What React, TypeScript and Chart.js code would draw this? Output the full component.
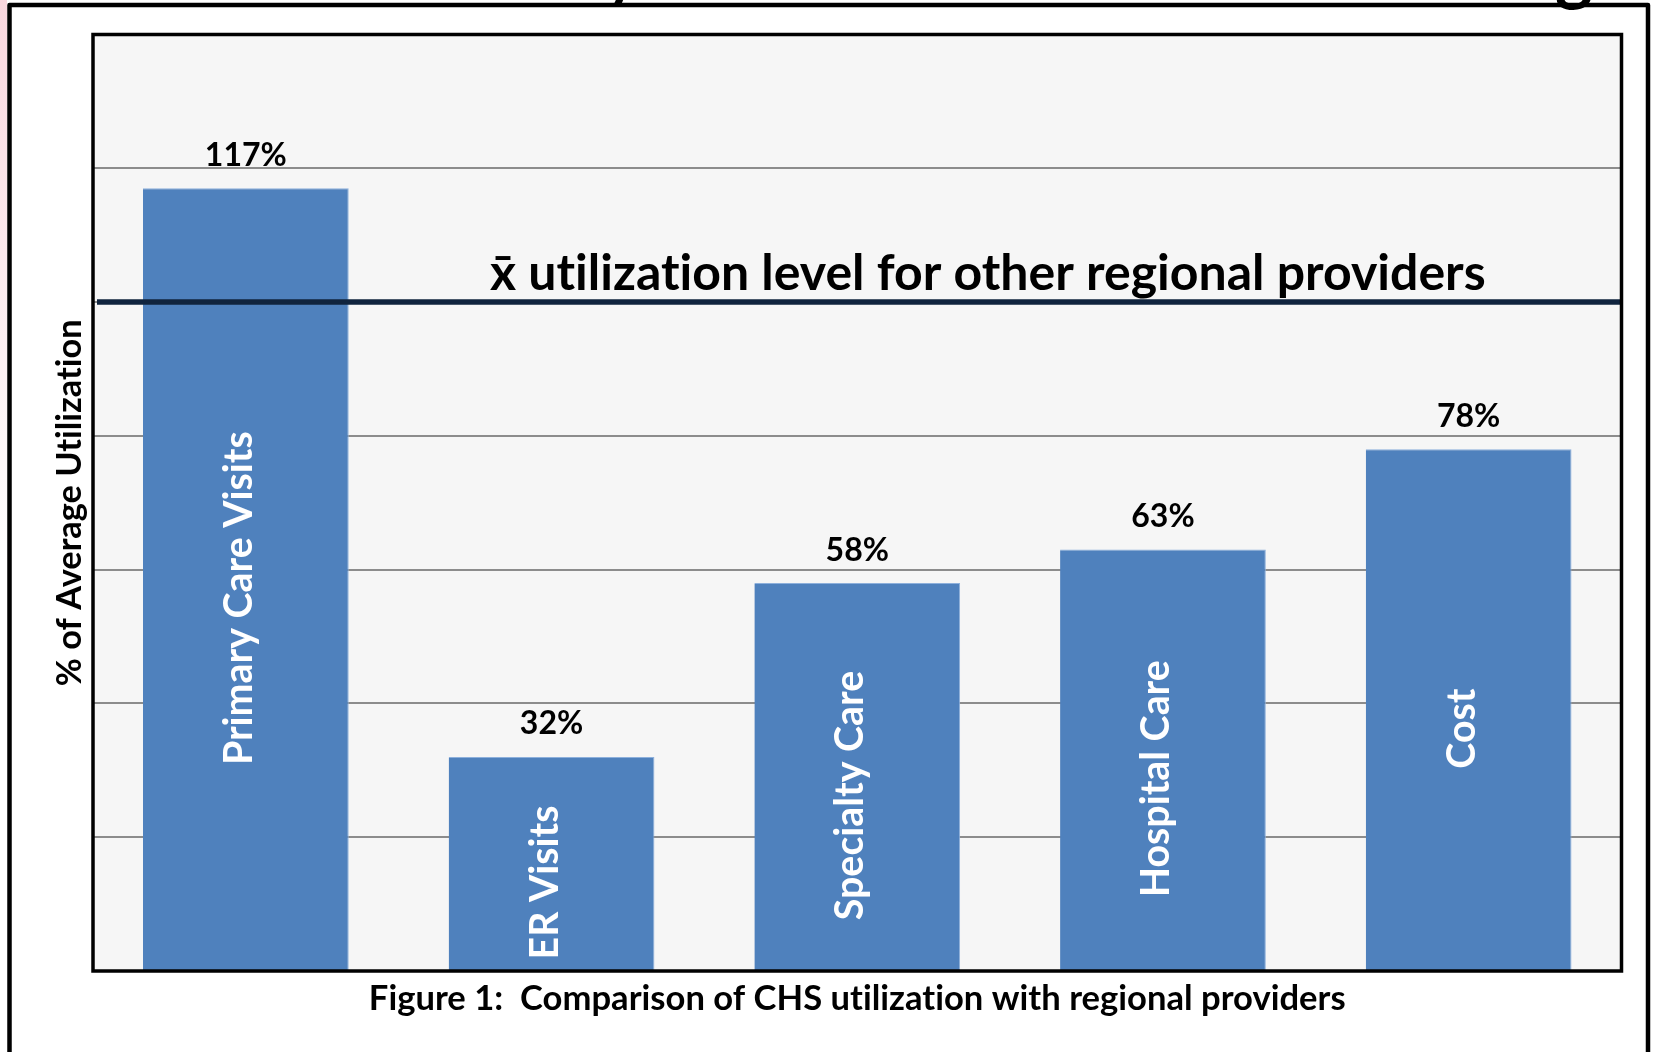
import React, { useEffect, useRef } from "react";
import { Chart, registerables } from "chart.js";

Chart.register(...registerables);

// ---- data ----
const categories = ["Primary Care Visits", "ER Visits", "Specialty Care", "Hospital Care", "Cost"];
const utilization = [117, 32, 58, 63, 78];
const yMin = 0;
const yMax = 140;
const yStep = 20;
const meanLevel = 100;
const yAxisTitle = "% of Average Utilization";
const meanLabel = "x\u0304 utilization level for other regional providers";
const caption = "Figure 1:  Comparison of CHS utilization with regional providers";

const FONT = "Lato, 'Open Sans', sans-serif";

function setNoLig(ctx: any) {
  // non-zero letter spacing disables the "ti" ligature, as in the reference
  try {
    ctx.letterSpacing = "0.01px";
  } catch (e) {}
}

function fitSize(ctx: CanvasRenderingContext2D, text: string, target: number, base = 40) {
  ctx.font = `bold ${base}px ${FONT}`;
  const w = ctx.measureText(text).width;
  return (base * target) / w;
}

const decor = {
  id: "decor",
  beforeDraw(chart: any) {
    const { ctx, chartArea: a, width, height } = chart;
    ctx.save();
    ctx.fillStyle = "#ffffff";
    ctx.fillRect(0, 0, width, height);
    const g = ctx.createLinearGradient(0, 0, 0, 560);
    g.addColorStop(0, "rgba(248,205,214,0.8)");
    g.addColorStop(1, "rgba(248,205,214,0)");
    ctx.fillStyle = g;
    ctx.fillRect(0, 0, 7, 560);
    ctx.fillStyle = "#F6F6F6";
    ctx.fillRect(a.left, a.top, a.right - a.left, a.bottom - a.top);
    ctx.restore();
  },
  afterDatasetsDraw(chart: any) {
    const { ctx, chartArea: a } = chart;
    const yScale = chart.scales.y;
    const meta = chart.getDatasetMeta(0);
    ctx.save();
    setNoLig(ctx);

    // mean line
    const my = yScale.getPixelForValue(meanLevel);
    ctx.strokeStyle = "#10243E";
    ctx.lineWidth = 5.5;
    ctx.beginPath();
    ctx.moveTo(a.left + 4, my);
    ctx.lineTo(a.right, my);
    ctx.stroke();

    // mean label
    const ms = fitSize(ctx, meanLabel, 996);
    ctx.font = `bold ${ms}px ${FONT}`;
    ctx.fillStyle = "#000";
    ctx.textAlign = "left";
    ctx.textBaseline = "alphabetic";
    ctx.fillText(meanLabel, a.left + 397, my - 12);

    // value labels
    const vs = fitSize(ctx, `${utilization[0]}%`, 82);
    ctx.font = `bold ${vs}px ${FONT}`;
    ctx.textAlign = "center";
    meta.data.forEach((el: any, i: number) => {
      ctx.fillText(`${utilization[i]}%`, el.x, el.y - 22.5);
    });

    // category labels inside bars
    const cs = fitSize(ctx, categories[0], 334);
    ctx.font = `bold ${cs}px ${FONT}`;
    ctx.fillStyle = "#ffffff";
    ctx.textAlign = "center";
    ctx.textBaseline = "alphabetic";
    meta.data.forEach((el: any, i: number) => {
      const cy = (el.y + el.base) / 2 + 19;
      ctx.save();
      ctx.translate(el.x + 6, cy);
      ctx.rotate(-Math.PI / 2);
      ctx.fillText(categories[i], 0, 0);
      ctx.restore();
    });

    // inner frame
    ctx.strokeStyle = "#000";
    ctx.lineWidth = 3.5;
    ctx.strokeRect(a.left, a.top, a.right - a.left, a.bottom - a.top);

    // outer frame
    ctx.lineWidth = 4.5;
    ctx.lineJoin = "round";
    ctx.beginPath();
    ctx.moveTo(9.5, 1060);
    ctx.lineTo(9.5, 5);
    ctx.lineTo(1648, 5);
    ctx.lineTo(1648, 1060);
    ctx.stroke();

    // clipped title glyphs at very top
    ctx.fillStyle = "#000";
    ctx.textAlign = "left";
    ctx.font = `bold 62px ${FONT}`;
    ctx.fillText("y", 606, -4);
    ctx.font = `bold 72px ${FONT}`;
    ctx.fillText("g", 1555, -4);

    // y axis title
    const ts = fitSize(ctx, yAxisTitle, 367);
    ctx.font = `bold ${ts}px ${FONT}`;
    ctx.textAlign = "center";
    ctx.save();
    ctx.translate(81, (a.top + a.bottom) / 2);
    ctx.rotate(-Math.PI / 2);
    ctx.fillText(yAxisTitle, 0, 0);
    ctx.restore();

    // caption
    const fs = fitSize(ctx, caption, 977);
    ctx.font = `bold ${fs}px ${FONT}`;
    ctx.textAlign = "center";
    ctx.fillText(caption, (a.left + a.right) / 2, a.bottom + 39);

    ctx.restore();
  },
};

export default function App() {
  const ref = useRef<HTMLCanvasElement | null>(null);
  useEffect(() => {
    if (!ref.current) return;
    const chart = new Chart(ref.current, {
      type: "bar",
      data: {
        labels: categories,
        datasets: [
          {
            data: utilization,
            backgroundColor: "#4F81BD",
            borderColor: "#8DB0DC",
            borderWidth: { top: 1, right: 1, left: 0, bottom: 0 },
            borderSkipped: "bottom",
            barPercentage: 0.673,
            categoryPercentage: 1,
          },
        ],
      },
      options: {
        responsive: false,
        animation: false,
        devicePixelRatio: 1,
        layout: { padding: { left: 93, right: 31.5, top: 34.5, bottom: 81 } },
        plugins: {
          legend: { display: false },
          tooltip: { enabled: false },
          title: { display: false },
        },
        scales: {
          x: { display: false },
          y: {
            min: yMin,
            max: yMax,
            ticks: { stepSize: yStep, display: false },
            grid: { color: "#8C8C8C", lineWidth: 2, drawTicks: false },
            border: { display: false },
            afterFit: (s: any) => {
              s.width = 0;
            },
          },
        },
      } as any,
      plugins: [decor],
    });
    return () => chart.destroy();
  }, []);
  return (
    <div style={{ position: "fixed", left: 0, top: 0, width: 1653, height: 1052, background: "#fff" }}>
      <canvas ref={ref} width={1653} height={1052} style={{ display: "block" }} />
    </div>
  );
}
